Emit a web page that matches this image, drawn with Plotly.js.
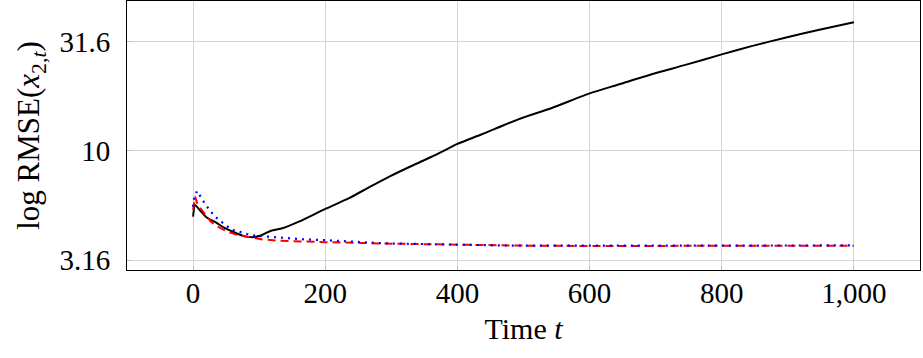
<!DOCTYPE html>
<html>
<head>
<meta charset="utf-8">
<script src="https://cdn.plot.ly/plotly-3.0.1.min.js"></script>
<style>html,body{margin:0;padding:0;background:#fff;}#chart{width:923px;height:358px;}</style>
</head>
<body>
<div id="chart"></div>
<script>
// Black solid series
var tBlack = [0, 3, 10, 20, 35, 47, 62, 77, 93, 105, 118, 135, 160, 200, 236, 266, 297, 337, 367, 400, 437, 493, 543, 600, 644, 694, 745, 800, 845, 896, 946, 1000];
var black = [5.0, 5.65, 5.36, 4.97, 4.69, 4.45, 4.24, 4.07, 4.03, 4.13, 4.31, 4.42, 4.74, 5.42, 6.07, 6.8, 7.62, 8.7, 9.57, 10.75, 11.9, 13.96, 15.7, 18.3, 20.1, 22.4, 24.7, 27.6, 30.1, 32.9, 35.7, 38.7];
// Red dashed series
var tRed = [0, 3, 7, 17, 27, 37, 52, 67, 88, 105, 130, 160, 200, 300, 400, 510, 600, 700, 800, 900, 1000];
var red = [5.36, 6.17, 5.65, 5.18, 4.74, 4.5, 4.27, 4.12, 4.0, 3.93, 3.88, 3.85, 3.82, 3.76, 3.71, 3.68, 3.67, 3.67, 3.68, 3.68, 3.68];
// Blue dotted series
var tBlue = [0, 1, 6, 11, 18, 25, 32, 41, 50, 61, 71, 82, 94, 131, 165, 200, 246, 291, 337, 400, 488, 600, 700, 800, 900, 1000];
var blue = [5.55, 5.98, 6.55, 6.17, 5.72, 5.36, 5.04, 4.79, 4.54, 4.34, 4.24, 4.16, 4.09, 4.0, 3.94, 3.90, 3.84, 3.77, 3.75, 3.72, 3.68, 3.68, 3.68, 3.68, 3.68, 3.69];

var xTickVals = [0, 200, 400, 600, 800, 1000];
var xTickText = ['0', '200', '400', '600', '800', '1,000'];
var yTickVals = [3.1623, 10, 31.623];
var yTickText = ['3.16', '10', '31.6'];

var FONT = 'Liberation Serif, DejaVu Serif, serif';

var traces = [
  {x: tBlack, y: black, type: 'scatter', mode: 'lines', line: {color: '#000000', width: 2, shape: 'spline', smoothing: 0.6}},
  {x: tRed, y: red, type: 'scatter', mode: 'lines', line: {color: '#ff0000', width: 2, dash: '8px,5px'}},
  {x: tBlue, y: blue, type: 'scatter', mode: 'lines', line: {color: '#0000ff', width: 2.2, dash: '2px,5px'}}
];

var layout = {
  width: 923, height: 358,
  margin: {l: 127, r: 3, t: 1, b: 88, pad: 0},
  paper_bgcolor: '#ffffff', plot_bgcolor: '#ffffff',
  showlegend: false,
  font: {family: FONT, size: 29, color: '#000000'},
  xaxis: {
    range: [-100, 1100],
    tickvals: xTickVals, ticktext: xTickText,
    showgrid: true, gridcolor: '#d4d4d4', gridwidth: 1,
    zeroline: false,
    showline: true, mirror: true, linecolor: '#000000', linewidth: 1,
    ticks: 'inside', ticklen: 4, tickcolor: '#bbbbbb',
    ticklabelstandoff: -3,
    tickfont: {family: FONT, size: 29},
    title: {text: 'Time <i>t</i>', font: {family: FONT, size: 30}, standoff: 10}
  },
  yaxis: {
    type: 'log',
    range: [0.4547, 1.685],
    tickvals: yTickVals, ticktext: yTickText,
    showgrid: true, gridcolor: '#d4d4d4', gridwidth: 1,
    zeroline: false,
    showline: true, mirror: true, linecolor: '#000000', linewidth: 1,
    ticks: 'inside', ticklen: 4, tickcolor: '#bbbbbb',
    ticklabelstandoff: 10,
    tickfont: {family: FONT, size: 29},
    title: {text: 'log RMSE(<i>x</i><sub>2,<i>t</i></sub>)', font: {family: FONT, size: 31}, standoff: 10}
  }
};

Plotly.newPlot('chart', traces, layout, {staticPlot: true, displayModeBar: false});
</script>
</body>
</html>
